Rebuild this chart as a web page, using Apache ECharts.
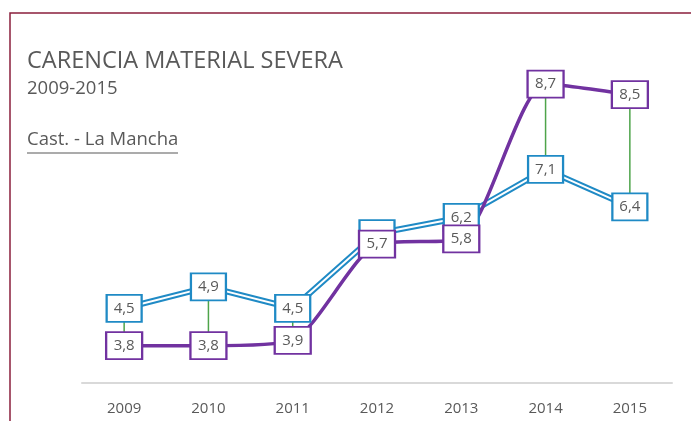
<!DOCTYPE html>
<html>
<head>
<meta charset="utf-8">
<script src="https://cdn.jsdelivr.net/npm/echarts@6/dist/echarts.min.js"></script>
<style>
  html, body { margin: 0; padding: 0; background: #fff; }
  #chart1 { width: 691px; height: 421px; }
</style>
</head>
<body>
<div id="chart1"></div>
<script>
// datos
var years = ['2009', '2010', '2011', '2012', '2013', '2014', '2015'];
var espana = [4.5, 4.9, 4.5, 5.9, 6.2, 7.1, 6.4];
var castillaLaMancha = [3.8, 3.8, 3.9, 5.7, 5.8, 8.7, 8.5];

var textColor = '#595959';
var blue = '#1f8ac5';
var purple = '#7132a0';
var font = 'Open Sans';

function fmt(p) {
    return String(p.value).replace('.', ',');
}

var hiLo = years.map(function (y, i) { return [i, espana[i], castillaLaMancha[i]]; });

var myChart = echarts.init(document.getElementById('chart1'));

// cajas con etiqueta (el morado un poco mayor para que gane al ocultar solapes)
function boxSeries(data, color, z, size) {
    return {
        type: 'line',
        data: data,
        z: z,
        symbol: 'rect',
        symbolSize: size,
        lineStyle: { width: 0, opacity: 0 },
        itemStyle: { color: '#fff', borderColor: color, borderWidth: 2 },
        label: {
            show: true,
            position: 'inside',
            formatter: fmt,
            color: textColor,
            fontFamily: font,
            fontSize: 15
        },
        labelLayout: { hideOverlap: true },
        emphasis: { disabled: true }
    };
}

var option = {
    animation: false,
    grid: { left: 82, right: 19, top: 68, bottom: 38 },
    xAxis: {
        type: 'category',
        data: years,
        boundaryGap: true,
        axisLine: { lineStyle: { color: '#d9d9d9', width: 2 } },
        axisTick: { show: false },
        axisLabel: { color: textColor, fontFamily: font, fontSize: 15, margin: 18 }
    },
    yAxis: {
        type: 'value',
        min: 3.1,
        max: 9.0,
        show: false,
        splitLine: { show: false }
    },
    graphic: [
        {
            type: 'rect',
            shape: { x: 10, y: 13, width: 700, height: 430 },
            style: { fill: null, stroke: '#8a1f3d', lineWidth: 1.5 }
        },
        {
            type: 'text', left: 27, top: 49,
            style: { text: 'CARENCIA MATERIAL SEVERA', fill: textColor, font: '23.5px "Open Sans"' }
        },
        {
            type: 'text', left: 27, top: 79,
            style: { text: '2009-2015', fill: textColor, font: '18.5px "Open Sans"' }
        },
        {
            type: 'text', left: 27, top: 130,
            style: { text: 'Cast. - La Mancha', fill: textColor, font: '18.5px "Open Sans"' }
        },
        {
            type: 'line',
            shape: { x1: 27, y1: 153, x2: 178, y2: 153 },
            style: { stroke: textColor, lineWidth: 1.2 }
        }
    ],
    series: [
        {
            type: 'custom',
            z: 1,
            data: hiLo,
            renderItem: function (params, api) {
                var a = api.coord([api.value(0), api.value(1)]);
                var b = api.coord([api.value(0), api.value(2)]);
                return {
                    type: 'line',
                    shape: { x1: a[0], y1: a[1], x2: b[0], y2: b[1] },
                    style: { stroke: '#4ea44a', lineWidth: 1.5 }
                };
            }
        },
        {
            type: 'line', data: espana, z: 2, symbol: 'none',
            lineStyle: { color: blue, width: 6 }
        },
        {
            type: 'line', data: espana, z: 2, symbol: 'none',
            lineStyle: { color: '#fff', width: 2 }
        },
        {
            type: 'line', data: castillaLaMancha, z: 2, symbol: 'none', smooth: 0.22,
            lineStyle: { color: purple, width: 3.5 }
        },
        boxSeries(espana, blue, 3, [35, 27]),
        boxSeries(castillaLaMancha, purple, 4, [36, 27])
    ]
};

myChart.setOption(option);
</script>
</body>
</html>
